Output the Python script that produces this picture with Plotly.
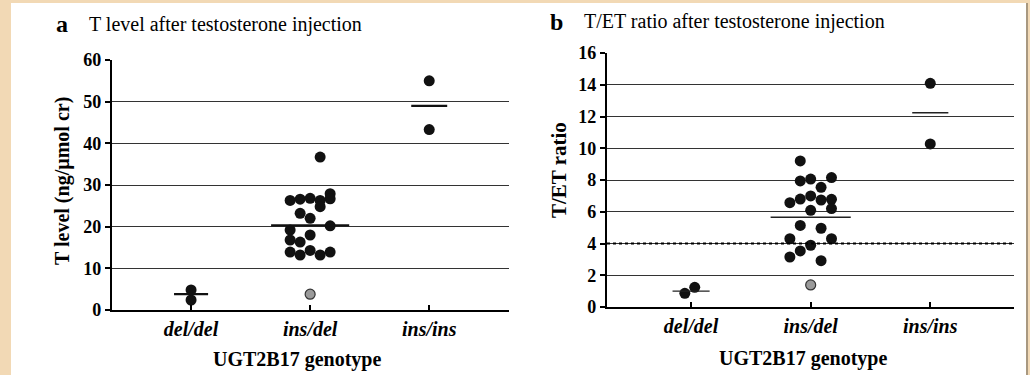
import plotly.graph_objects as go

W, H = 1030, 375

# ---------------- data ----------------
categories = ["del/del", "ins/del", "ins/ins"]

# Panel a: T level (ng/umol cr); columns = beeswarm column index (-2..2)
a_deldel_vals = [4.8, 2.4]
a_deldel_cols = [0, 0]
a_insdel_vals = [36.7, 26.3, 26.6, 26.8, 26.3, 27.9, 26.7, 24.8, 23.2, 22.0,
                 20.2, 19.2, 18.0, 16.8, 16.3, 13.9, 13.2, 14.3, 13.2, 13.9]
a_insdel_cols = [1, -2, -1, 0, 1, 2, 2, 1, -1, 0,
                 2, -2, 0, -2, -1, -2, -1, 0, 1, 2]
a_insins_vals = [55.0, 43.3]
a_insins_cols = [0, 0]
a_outlier_vals = [3.8]      # grey point, ins/del
a_means = [3.8, 20.3, 49.0]

# Panel b: T/ET ratio
b_deldel_vals = [0.86, 1.24]
b_deldel_cols = [-0.6, 0.35]
b_insdel_vals = [9.2, 7.94, 8.06, 8.15, 7.54, 6.57, 6.8, 7.0, 6.74, 6.78,
                 6.2, 6.09, 5.14, 4.96, 4.3, 4.3, 3.89, 3.53, 3.15, 2.92]
b_insdel_cols = [-1, -1, 0, 2, 1, -2, -1, 0, 1, 2,
                 2, 0, -1, 1, -2, 2, 0, -1, -2, 1]
b_insins_vals = [14.09, 10.27]
b_insins_cols = [0, 0]
b_outlier_vals = [1.39]
b_means = [1.0, 5.65, 12.24]
b_threshold = 4

a_yticks = [0, 10, 20, 30, 40, 50, 60]
b_yticks = [0, 2, 4, 6, 8, 10, 12, 14, 16]

# ---------------- helpers ----------------
def px(x):
    return x / W

def py(y):
    return 1 - y / H

SERIF = "Liberation Serif"
DOT = "#111111"

fig = go.Figure()

def add_panel(xa, ya, groups, outlier, means, halfw, col_step, mean_w, mean_color):
    for gi, (vals, cols) in enumerate(groups):
        fig.add_trace(go.Scatter(
            x=[gi + c * col_step for c in cols], y=vals, mode="markers",
            marker=dict(size=11, color=DOT, line=dict(width=0)),
            xaxis=xa, yaxis=ya, showlegend=False, hoverinfo="y"))
    fig.add_trace(go.Scatter(
        x=[1] * len(outlier), y=outlier, mode="markers",
        marker=dict(size=10, color="#9a9a9a", line=dict(width=1.2, color="#333333")),
        xaxis=xa, yaxis=ya, showlegend=False, hoverinfo="y"))
    for gi, m in enumerate(means):
        fig.add_trace(go.Scatter(
            x=[gi - halfw[gi], gi + halfw[gi]], y=[m, m], mode="lines",
            line=dict(color=mean_color, width=mean_w),
            xaxis=xa, yaxis=ya, showlegend=False, hoverinfo="skip"))

add_panel("x", "y",
          [(a_deldel_vals, a_deldel_cols), (a_insdel_vals, a_insdel_cols),
           (a_insins_vals, a_insins_cols)],
          a_outlier_vals, a_means, [0.143, 0.328, 0.151], 0.084, 2.2, "#111111")
add_panel("x2", "y2",
          [(b_deldel_vals, b_deldel_cols), (b_insdel_vals, b_insdel_cols),
           (b_insins_vals, b_insins_cols)],
          b_outlier_vals, b_means, [0.155, 0.335, 0.151], 0.087, 1.4, "#222222")

xaxis_common = dict(
    tickmode="array", tickvals=[0, 1, 2], ticktext=categories,
    tickfont=dict(family=SERIF, size=20, color="black", weight="bold", style="italic"),
    ticks="inside", ticklen=5, tickwidth=1.5, tickcolor="black",
    showline=True, linecolor="black", linewidth=2.2,
    showgrid=False, zeroline=False, ticklabelstandoff=0, automargin=False,
)
yaxis_common = dict(
    tickfont=dict(family=SERIF, size=18, color="black", weight="bold"),
    ticks="outside", ticklen=5, tickwidth=1.5, tickcolor="black",
    showline=True, linecolor="black", linewidth=2.2,
    showgrid=True, gridcolor="#333333", gridwidth=1.3, zeroline=False,
    automargin=False,
)

fig.update_layout(
    template="none",
    width=W, height=H,
    margin=dict(l=0, r=0, t=0, b=0, pad=0),
    paper_bgcolor="#f2d9b5", plot_bgcolor="rgba(0,0,0,0)",
    showlegend=False,
    font=dict(family=SERIF, color="black"),
    xaxis=dict(domain=[px(112), px(509)], range=[-0.664, 2.67], **xaxis_common),
    yaxis=dict(domain=[py(310), py(60)], range=[0, 60], tickvals=a_yticks, **yaxis_common),
    xaxis2=dict(domain=[px(607), px(1014)], range=[-0.703, 2.70], anchor="y2", **xaxis_common),
    yaxis2=dict(domain=[py(307), py(53)], range=[0, 16], tickvals=b_yticks, anchor="x2",
                **yaxis_common),
)

# white page and border
fig.add_shape(type="rect", xref="paper", yref="paper", x0=px(11), x1=px(1027),
              y0=-0.05, y1=py(3), fillcolor="white", line=dict(width=0), layer="below")
fig.add_shape(type="line", xref="paper", yref="paper", x0=px(1027), x1=px(1027),
              y0=-0.05, y1=py(3), line=dict(color="#a89880", width=2), layer="below")

# threshold dotted line (panel b)
fig.add_shape(type="line", xref="x2 domain", yref="y2", x0=0, x1=1,
              y0=b_threshold, y1=b_threshold,
              line=dict(color="black", width=2, dash="dot"))

def ann(text, x, y, size, bold=False, xanchor="left", yanchor="middle", angle=0):
    fig.add_annotation(
        text=text, x=px(x), y=py(y), xref="paper", yref="paper",
        xanchor=xanchor, yanchor=yanchor, textangle=angle, showarrow=False,
        font=dict(family=SERIF, size=size, color="black", weight="bold" if bold else "normal"))

# panel titles
ann("a", 54, 24, 24, bold=True)
ann("T level after testosterone injection", 87, 24, 20)
ann("b", 548, 22, 24, bold=True)
ann("T/ET ratio after testosterone injection", 582, 22, 20)

# axis titles
ann("UGT2B17 genotype", 297, 359, 20, bold=True, xanchor="center")
ann("UGT2B17 genotype", 803, 358, 20, bold=True, xanchor="center")
ann("T level (ng/µmol cr)", 62, 181, 20, bold=True, xanchor="center", angle=-90)
ann("T/ET ratio", 559, 170, 21, bold=True, xanchor="center", angle=-90)

fig.write_html(
    "out.html",
    config={"displayModeBar": False},
    post_script="document.body.style.margin='0';document.body.style.overflow='hidden';",
)
